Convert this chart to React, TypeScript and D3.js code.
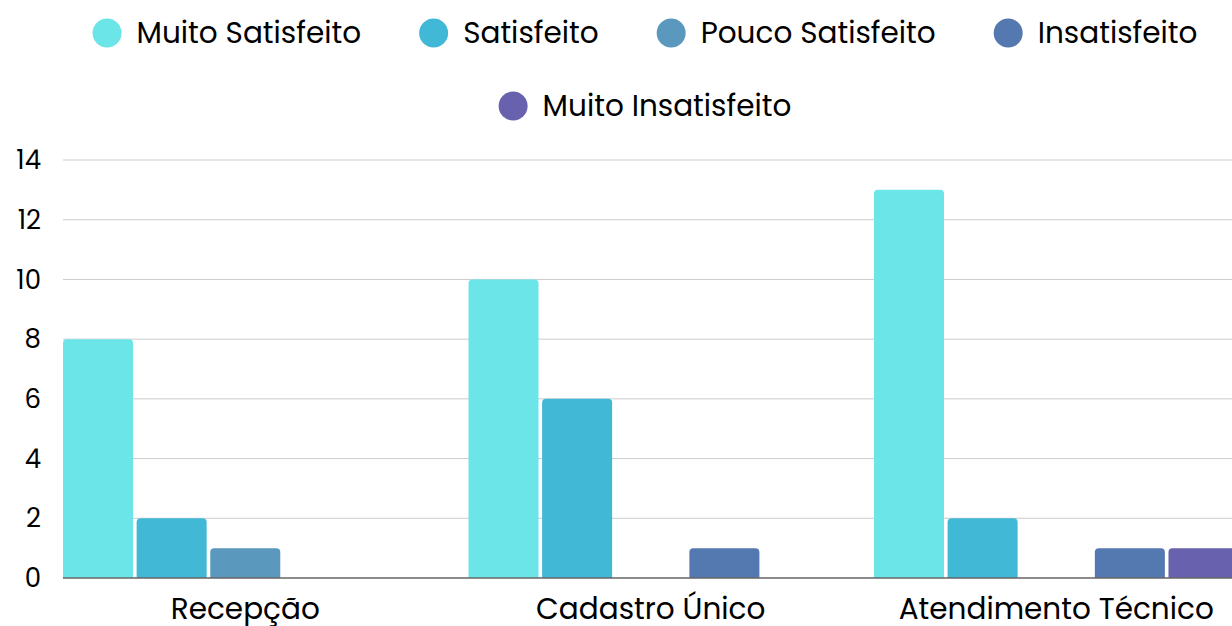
import React, { useEffect, useRef } from "react";
import * as d3 from "d3";

const categories = ["Recepção", "Cadastro Único", "Atendimento Técnico"];
const seriesNames = ["Muito Satisfeito", "Satisfeito", "Pouco Satisfeito", "Insatisfeito", "Muito Insatisfeito"];
const seriesColors = ["#6be5e8", "#41b8d5", "#5a98bd", "#5478b0", "#6761ae"];
const values: number[][] = [
  [8, 2, 1, 0, 0],
  [10, 6, 0, 1, 0],
  [13, 2, 0, 1, 1],
];
const yTicks = [0, 2, 4, 6, 8, 10, 12, 14];

const W = 1232;
const H = 626;
const FONT = "Poppins, 'Open Sans', sans-serif";

export default function App() {
  const ref = useRef<SVGSVGElement | null>(null);

  useEffect(() => {
    document.body.style.margin = "0";
    const svg = d3.select(ref.current);
    svg.selectAll("*").remove();

    const left = 63;
    const y = d3.scaleLinear().domain([0, 14]).range([578, 160]);
    const x0 = d3.scaleBand<string>().domain(categories).range([left, 1238.5]).paddingInner(0.101).paddingOuter(0).align(0);
    const x1 = d3.scaleBand<string>().domain(seriesNames).range([0, x0.bandwidth()]).paddingInner(0.049).paddingOuter(0);

    // gridlines
    svg.append("g")
      .selectAll("line")
      .data(yTicks.filter((t) => t > 0))
      .join("line")
      .attr("x1", left)
      .attr("x2", W)
      .attr("y1", (d) => y(d))
      .attr("y2", (d) => y(d))
      .attr("stroke", "#cccccc")
      .attr("stroke-width", 1);

    // y labels
    svg.append("g")
      .selectAll("text")
      .data(yTicks)
      .join("text")
      .attr("x", 41)
      .attr("y", (d) => y(d))
      .attr("dy", "0.35em")
      .attr("text-anchor", "end")
      .attr("font-family", FONT)
      .attr("font-size", 26)
      .attr("fill", "#000")
      .text((d) => String(d));

    // bars
    const r = 4;
    const g = svg.append("g");
    categories.forEach((cat, ci) => {
      seriesNames.forEach((s, si) => {
        const v = values[ci][si];
        if (!v) return;
        const bx = (x0(cat) as number) + (x1(s) as number);
        const bw = x1.bandwidth();
        const by = y(v);
        const bh = y(0) - by;
        const p = d3.path();
        p.moveTo(bx, by + bh);
        p.lineTo(bx, by + r);
        p.arcTo(bx, by, bx + r, by, r);
        p.lineTo(bx + bw - r, by);
        p.arcTo(bx + bw, by, bx + bw, by + r, r);
        p.lineTo(bx + bw, by + bh);
        p.closePath();
        g.append("path").attr("d", p.toString()).attr("fill", seriesColors[si]);
      });
    });

    // baseline
    svg.append("line")
      .attr("x1", left).attr("x2", W)
      .attr("y1", y(0)).attr("y2", y(0))
      .attr("stroke", "#666666").attr("stroke-width", 1.5);

    // x labels
    svg.append("g")
      .selectAll("text")
      .data(categories)
      .join("text")
      .attr("x", (d) => (x0(d) as number) + x0.bandwidth() / 2)
      .attr("y", 619)
      .attr("text-anchor", "middle")
      .attr("font-family", FONT)
      .attr("font-size", 29.5)
      .attr("fill", "#000")
      .text((d) => d);

    // legend
    const rows = [[0, 1, 2, 3], [4]];
    const rowY = [33, 106];
    const rad = 14.5;
    const cGap = 15;
    const itemGap = 58;
    const center = 645;
    rows.forEach((row, ri) => {
      const lg = svg.append("g");
      let cx = 0;
      row.forEach((si, k) => {
        const item = lg.append("g").attr("transform", `translate(${cx},0)`);
        item.append("circle").attr("cx", rad).attr("cy", rowY[ri]).attr("r", rad).attr("fill", seriesColors[si]);
        const t = item.append("text")
          .attr("x", 2 * rad + cGap)
          .attr("y", rowY[ri])
          .attr("dy", "0.35em")
          .attr("font-family", FONT)
          .attr("font-size", 29.5)
          .attr("fill", "#000")
          .text(seriesNames[si]);
        const tw = (t.node() as SVGTextElement).getComputedTextLength();
        cx += 2 * rad + cGap + tw + (k < row.length - 1 ? itemGap : 0);
      });
      lg.attr("transform", `translate(${center - cx / 2},0)`);
    });
  }, []);

  return (
    <svg ref={ref} width={W} height={H} style={{ display: "block", background: "#fff" }} />
  );
}
